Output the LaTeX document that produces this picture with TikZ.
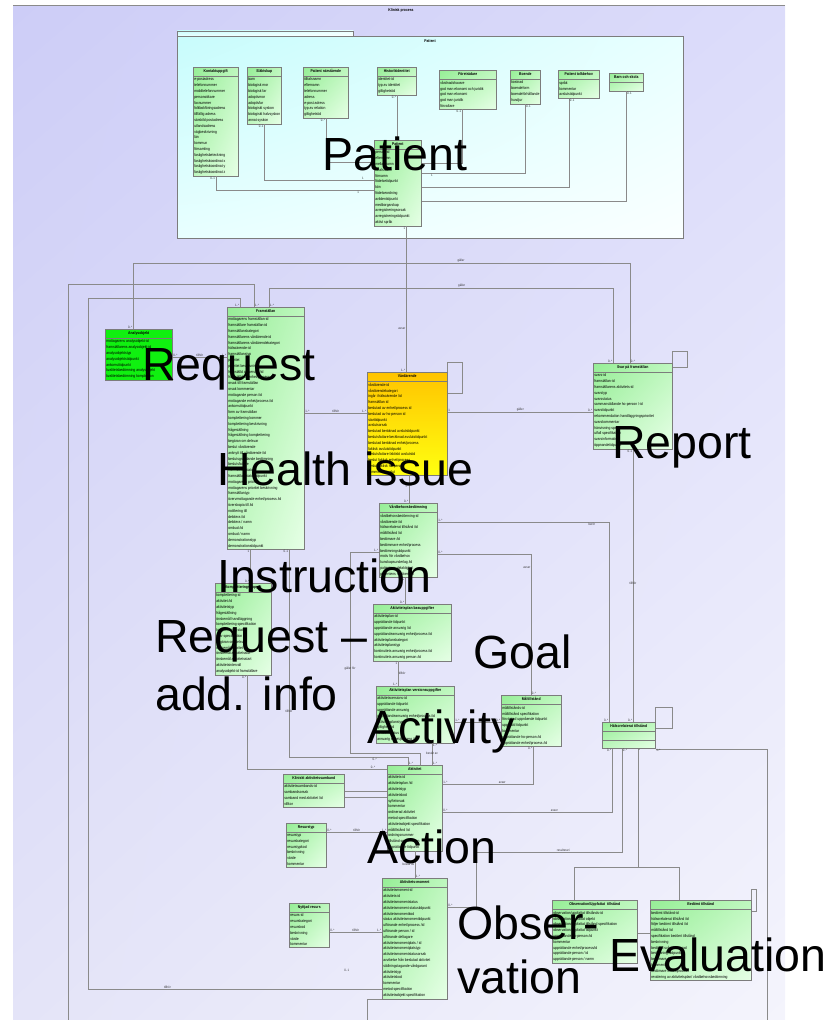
\documentclass[tikz,border=0pt]{standalone}
\usepackage{fontspec}
\setmainfont{Liberation Sans}
\newfontfamily\umlfam[FakeStretch=0.85]{Liberation Sans}
\newcommand{\attrfont}{\umlfam\fontsize{4}{5.8}\selectfont}
\newcommand{\multfont}{\umlfam\fontsize{3.3}{3.8}\selectfont}
\newcommand{\bigfont}{\fontsize{46.5}{56}\selectfont}
\usetikzlibrary{shapes.multipart,shadings,calc}
\definecolor{linegray}{HTML}{8A8A8A}
\definecolor{boxgray}{HTML}{7C7C7C}
\definecolor{bgA}{HTML}{CDCDF7}
\definecolor{bgB}{HTML}{DCDCFA}
\definecolor{bgC}{HTML}{E4E4F8}
\definecolor{bgD}{HTML}{F4F4FC}
\definecolor{pkgA}{HTML}{C8FCFC}
\definecolor{pkgB}{HTML}{E8FFFF}
\definecolor{pkgD}{HTML}{FAFFFF}
\definecolor{grnA}{HTML}{96EE96}
\definecolor{grnB}{HTML}{BEF7BE}
\definecolor{grnC}{HTML}{E6FFE6}
\definecolor{analysgreen}{HTML}{10F010}
\definecolor{vardtop}{HTML}{FFC400}
\definecolor{vardbot}{HTML}{FFFF10}
\tikzset{
	umlbase/.style={rectangle split, rectangle split parts=2, rectangle split part align={center,left},
		rectangle split empty part height=1pt, draw=boxgray, line width=0.5pt, anchor=north west,
		align=left, font=\attrfont, inner xsep=1pt, inner ysep=1.4pt},
	umlclass/.style={umlbase, shade, upper left=grnA, upper right=grnB, lower left=grnB, lower right=grnC},
	umlkey/.style={umlbase, fill=analysgreen},
	umlissue/.style={umlbase, top color=vardtop, bottom color=vardbot},
	pkgbox/.style={draw=boxgray, line width=0.5pt, anchor=north west, inner sep=0pt, shade,
		upper left=pkgA, upper right=pkgB, lower left=pkgB, lower right=pkgD},
	assoc/.style={draw=linegray, line width=0.5pt},
	mult/.style={font=\multfont, text=black!80, inner sep=0.5pt},
	bigtxt/.style={font=\bigfont, anchor=base west, inner sep=0pt},
}
\begin{document}
\begin{tikzpicture}[x=1pt, y=-1pt]
\useasboundingbox (0,0) rectangle (825,1020);
\shade[upper left=bgA, upper right=bgB, lower left=bgC, lower right=bgD] (13,5) rectangle (785,1020);
\draw[linegray, line width=0.5pt] (13,5) -- (785,5);
\node[font=\attrfont\bfseries] (title) at (401,10) {Klinisk process};

% Patient package
\node[pkgbox, minimum width=506, minimum height=202] (pkg) at (177,36) {};
\node[pkgbox, anchor=south west, minimum width=176, minimum height=5] (pkgtab) at (pkg.north west) {};
\node[font=\attrfont\bfseries] (pkgname) at (430,41) {Patient};

\node[umlclass, minimum width=45] (kontakt) at (193,67) {\strut\textbf{Kontaktuppgift}\nodepart{second}e-postadress\\telefonnummer\\mobiltelefonnummer\\personsökare\\faxnummer\\folkbokföringsadress\\tillfällig adress\\särskild postadress\\utlandsadress\\vägbeskrivning\\län\\kommun\\församling\\fastighetsbeteckning\\fastighetskoordinat x\\fastighetskoordinat y\\fastighetskoordinat z};
\node[umlclass, minimum width=34] (slakt) at (247,67) {\strut\textbf{Släktskap}\nodepart{second}barn\\biologisk mor\\biologisk far\\adoptivmor\\adoptivfar\\biologiskt syskon\\biologiskt halvsyskon\\annat syskon};
\node[umlclass, minimum width=45] (narst) at (303,67) {\strut\textbf{Patient närstående}\nodepart{second}tilltalsnamn\\efternamn\\telefonnummer\\adress\\e-post adress\\typ av relation\\giltighetstid};
\node[umlclass, minimum width=39] (histid) at (377,67) {\strut\textbf{Historikidentitet}\nodepart{second}identitet-id\\typ av identitet\\giltighetstid};
\node[umlclass, minimum width=57] (foretr) at (439,70) {\strut\textbf{Företrädare}\nodepart{second}vårdnadshavare\\god man ekonomi och juridik\\god man ekonomi\\god man juridik\\förvaltare};
\node[umlclass, minimum width=29] (boende) at (510,70) {\strut\textbf{Boende}\nodepart{second}kostnad\\boendeform\\boendeförhållande\\husdjur};
\node[umlclass, minimum width=41] (tolk) at (558,70) {\strut\textbf{Patient tolkbehov}\nodepart{second}språk\\kommentar\\avslutstidpunkt};
\node[umlclass, minimum width=34] (barnskola) at (609,73) {\strut\textbf{Barn och skola}\nodepart{second}};
\node[umlclass, minimum width=47] (patient) at (374,140) {\strut\textbf{Patient}\nodepart{second}person-id\\efternamn\\mellannamn\\tilltalsnamn\\förnamn\\födelsetidpunkt\\kön\\födelseordning\\avlidentidpunkt\\medborgarskap\\avregistreringsorsak\\avregistreringstidpunkt\\aktivt språk};

% clinical process
\node[umlkey, minimum width=67] (analys) at (105,329) {\strut\textbf{Analysobjekt}\nodepart{second}mottagarens analysobjekt-id\\framställarens analysobjekt-id\\analysobjektstyp\\analysobjektstidpunkt\\ankomsttidpunkt\\kvalitetsbedömning analysobjekt\\kvalitetsbedömning komplettion};
\node[umlclass, minimum width=77] (fram) at (227,307) {\strut\textbf{Framställan}\nodepart{second}mottagarens framställan-id\\framställare framställan-id\\framställanskategori\\framställarens vårdärende id\\framställarens vårdärendekategori\\hälsoärende-id\\framställanstyp\\prioritet\\prioritet beskrivning\\framställd av person /id\\framställd av enhet/process /id\\orsak till framställan\\orsak kommentar\\mottagande person /id\\mottagande enhet/process /id\\ankomsttidpunkt\\form av framställan\\komplettering kommer\\komplettering beskrivning\\frågeställning\\frågeställning komplettering\\begäran om delsvar\\beslut vårdärende\\anknytt till vårdärende /id\\beslutsgrundande bedömning\\beslutsfattare\\framställan status\\framställan statustidpunkt\\mottagarens prioritet\\mottagarens prioritet beskrivning\\framställantyp\\övervmottagande enhet/process /id\\överskopia till /id\\notifiering till\\debitera /id\\debitera / namn\\ombud /id\\ombud / namn\\demonstrationstyp\\demonstrationstidpunkt};
\node[umlissue, minimum width=80] (vard) at (367,372) {\strut\textbf{Vårdärende}\nodepart{second}vårdärende-id\\vårdärendekategori\\ingår i hälsoärende /id\\framställan id\\beslutad av enhet/process id\\beslutad av ho-person id\\starttidpunkt\\avslutsorsak\\beslutad beräknad avslutstidpunkt\\beslutsfattare beräknad avslutstidpunkt\\beslutad beräknad enhet/process\\faktisk avslutstidpunkt\\beslutsfattare faktiskt avslutstid\\beslut faktisk enhet/process\\beslut faktisk ho-person\\kommentar avslut};
\node[umlclass, minimum width=79] (svar) at (593,363) {\strut\textbf{Svar på framställan}\nodepart{second}svars-id\\framställan-id\\framställarens aktivitets-id\\svarstyp\\svarsstatus\\sammanställande ho-person /-id\\svarstidpunkt\\rekommendation handläggningsprioritet\\svarskommentar\\hänvisning specifikation\\utfall specifikation\\svarsinformation\\öppnandetidpunkt};
\node[umlclass, minimum width=58] (vbb) at (379,503) {\strut\textbf{Vårdbehovsbedömning}\nodepart{second}vårdbehovsbedömning-id\\vårdärende /id\\hälsorelaterat tillstånd /id\\måltillstånd /id\\bedömare /id\\bedömmare enhet/process\\bedömningstidpunkt\\motiv för vårdbehov\\kunskapsunderlag /id\\patientens delaktighet\\patientens medverkan};
\node[umlclass, minimum width=78] (planbas) at (373,604) {\strut\textbf{Aktivitetsplan basuppgifter}\nodepart{second}aktivitetsplan-id\\upprättande tidpunkt\\upprättande ansvarig /id\\upprättandeansvarig enhet/process /id\\aktivitetsplanskategori\\aktivitetsplanstyp\\kontinuitets ansvarig enhet/process /id\\kontinuitets ansvarig person /id};
\node[umlclass, minimum width=78] (planver) at (376,686) {\strut\textbf{Aktivitetsplan versionsuppgifter}\nodepart{second}aktivitetsversions-id\\upprättande tidpunkt\\upprättande ansvarig\\upprättandeansvarig enhet/process /id\\aktivitetsplanstyp\\giltighetstid\\versionsstatus\\ansvarig enhet/process /id};
\node[umlclass, minimum width=56] (kompl) at (215,583) {\strut\textbf{Kompletteringsuppgift}\nodepart{second}komplettering-id\\aktivitet /id\\aktivitetstyp\\frågeställning\\önskemål handläggning\\komplettering specifikation\\komplettering status\\svar specifikation\\begäran om delsvar\\önskemål prioritet\\önskemål aktivitetsslut\\önskemål aktivitetsstart\\aktivitetsintervall\\analysobjekt-id framställare};
\node[umlclass, minimum width=60] (mal) at (501,695) {\strut\textbf{Måltillstånd}\nodepart{second}måltillstånds-id\\måltillstånd specifikation\\förväntad uppnående tidpunkt\\uppnådd tidpunkt\\kommentar\\upprättande ho-person /id\\upprättande enhet/process /id};
\node[umlclass, rectangle split parts=3, minimum width=53] (halsa) at (602,722) {\strut\textbf{Hälsorelaterat tillstånd}\nodepart{second}\nodepart{third}};
\node[umlclass, minimum width=55] (akt) at (387,765) {\strut\textbf{Aktivitet}\nodepart{second}aktivitets-id\\aktivitetsplan /id\\aktivitetstyp\\aktivitetskod\\syfte/orsak\\kommentar\\ordinerad aktivitet\\metod specifikation\\aktivitetsobjekt specifikation\\måltillstånd /id\\ordningsnummer\\tillstånd specifikation\\upprättande tidpunkt};
\node[umlclass, minimum width=61] (ksamb) at (283,774) {\strut\textbf{Kliniskt aktivitetssamband}\nodepart{second}aktivitetssambands-id\\sambandsorsak\\samband med aktivitet /id\\villkor};
\node[umlclass, minimum width=40] (restyp) at (286,823) {\strut\textbf{Resurstyp}\nodepart{second}resurstyp\\resurskategori\\resurstypkod\\beskrivning\\värde\\kommentar};
\node[umlclass, minimum width=40] (nyttjad) at (289,903) {\strut\textbf{Nyttjad resurs}\nodepart{second}resurs-id\\resurskategori\\resurskod\\beskrivning\\värde\\kommentar};
\node[umlclass, minimum width=65] (amom) at (382,878) {\strut\textbf{Aktivitets-moment}\nodepart{second}aktivitetsmoment-id\\aktivitets-id\\aktivitetsmomentstatus\\aktivitetsmoment statustidpunkt\\aktivitetsmomentkod\\status aktivitetsmomenttidpunkt\\utförande enhet/process /id\\utförande person / id\\utförande deltagare\\aktivitetsmomentplats / id\\aktivitetsmomentplatstyp\\aktivitetsmomentstatusorsak\\avvikelse från beslutad aktivitet\\ställningstagande vårdgarant\\aktivitetstyp\\aktivitetskod\\kommentar\\metod specifikation\\aktivitetsobjekt specifikation};
\node[umlclass, minimum width=85] (obs) at (552,900) {\strut\textbf{Observation/Uppfattat\enspace tillstånd}\nodepart{second}observation/uppfattat tillstånds-id\\observation/uppfattat objekt\\observation/uppfattat tillstånd specifikation\\observation/uppfattat tidpunkt\\upprättande ho-person /id\\kommentar\\upprättande enhet/process/id\\upprättande person / id\\upprättande person / namn};
\node[umlclass, minimum width=101] (bedomt) at (650,900) {\strut\textbf{Bedömt tillstånd}\nodepart{second}bedömt tillstånd-id\\hälsorelaterat tillstånd /id\\följer bedömt tillstånd /id\\måltillstånd /id\\specifikation bedömt tillstånd\\beskrivning\\bedömd svårighetsgrad\\bedömningstidpunkt\\bedömare /id\\kommentar\\bedömare enhet/process\\revidering av aktivitetsplan/ vårdbehovsbedömning};

\coordinate (leftend) at (68,1020);
\coordinate (rightend) at (767,1020);
\coordinate (bottomend) at (367,1020);
\coordinate (gen) at (638,867);

% patient package connectors
\draw[assoc] (kontakt.south) node[mult, anchor=north east] {0..1} |- node[mult, pos=0.95, below] {1} (patient.west |- 0,190);
\draw[assoc] (slakt.south) node[mult, anchor=north east] {0..1} |- node[mult, pos=0.95, above] {1} (patient.west |- 0,180);
\draw[assoc] (narst.south) node[mult, anchor=north east] {0..*} |- (patient.west |- 0,162);
\draw[assoc] (histid.south) node[mult, anchor=north east] {0..*} -- (patient.north -| histid.south);
\draw[assoc] (foretr.south -| 462,0) node[mult, anchor=north east] {0..1} |- (patient.east |- 0,163);
\draw[assoc] (boende.south) node[mult, anchor=north west] {0..1} |- node[mult, pos=0.95, below] {1} (patient.east |- 0,173);
\draw[assoc] (tolk.south -| 569,0) node[mult, anchor=north west] {0..1} |- (patient.east |- 0,187);
\draw[assoc] (barnskola.south) node[mult, anchor=north west] {0..1} |- (patient.east |- 0,201);

% process connectors
\draw[assoc] (patient.south -| 406,0) node[mult, anchor=north east] {1} -- node[mult, pos=0.7, left] {avser} node[mult, pos=1, anchor=south east] {1..*} (vard.north -| 406,0);
\draw[assoc] (analys.north -| 133,0) node[mult, anchor=south east] {0..*} -- ++(0,-66) -| node[mult, pos=0.33, above] {gäller} node[mult, pos=1, anchor=south west] {0..*} (svar.north -| 630,0);
\draw[assoc] (fram.north -| 269,0) node[mult, anchor=south west] {1..*} -- ++(0,-19) -| node[mult, pos=0.28, above] {gäller} node[mult, pos=1, anchor=south east] {0..*} (svar.north -| 613,0);
\draw[assoc] (fram.north -| 254,0) node[mult, anchor=south west] {1..*} -- ++(0,-23) -| (leftend);
\draw[assoc] (fram.north -| 240,0) node[mult, anchor=south east] {1..*} -- ++(0,-9) -| (88,989) -- node[mult, pos=0.27, above] {tillhör} node[mult, pos=0.88, above=17pt] {0..1} (amom.west |- 0,989);
\draw[assoc] (analys.east |- 0,357) node[mult, anchor=south west] {0..*} -- node[mult, above] {tillhör} node[mult, pos=1, anchor=south east] {1..*} (fram.west |- 0,357);
\draw[assoc] (fram.east |- 0,413) node[mult, anchor=south west] {1..*} -- node[mult, above] {tillhör} node[mult, pos=1, anchor=south east] {1..*} (vard.west |- 0,413);
\draw[assoc] (vard.north east) -- ++(0,-10) -- ++(15,0) -- ++(0,31) -- ++(-15,0);
\draw[assoc] (vard.east |- 0,412) node[mult, anchor=south west] {1} -- node[mult, above] {gäller} node[mult, pos=1, anchor=south east] {0..*} (svar.west |- 0,412);
\draw[assoc] (svar.north east) -- ++(0,-12) -- ++(15,0) -- ++(0,16) -- ++(-15,0);
\draw[assoc] (svar.south -| 633,0) node[mult, anchor=north east] {0..1} -- node[mult, pos=0.49] {tillhör} node[mult, pos=1, anchor=south east] {0..*} (halsa.north -| 633,0);
\draw[assoc] (vard.south -| 409,0) -- node[mult, pos=0.37] {gäller} node[mult, pos=1, anchor=south east] {0..*} (vbb.north -| 409,0);
\draw[assoc] (vbb.east |- 0,522) node[mult, anchor=south west] {1..*} -| node[mult, pos=0.45, below] {berör} node[mult, pos=1, anchor=south east] {0..*} (halsa.north -| 609,0);
\draw[assoc] (vbb.east |- 0,554) node[mult, anchor=south west] {0..*} -| node[mult, pos=0.55, left] {avser} node[mult, pos=1, anchor=south west] {0..*} (mal.north -| 531,0);
\draw[assoc] (vbb.south -| 405,0) node[mult, anchor=north east] {0..*} -- node[mult, pos=1, anchor=south east] {0..*} (planbas.north -| 405,0);
\draw[assoc] (vbb.west |- 0,552) node[mult, anchor=south east] {1..*} -| node[mult, pos=0.79] {gäller för} (350,753) -| (akt.north -| 420,0);
\draw[assoc] (fram.south -| 289,0) node[mult, anchor=north east] {0..1} -- node[mult, pos=0.78] {tillhör} (289,757) -| node[mult, pos=0.36, below] {0..*} node[mult, pos=1, anchor=south west] {1..*} (akt.north -| 408,0);
\draw[assoc] (kompl.south -| 247,0) node[mult, anchor=north east] {0..*} |- node[mult, pos=0.95, above] {0..*} (akt.west |- 0,769);
\draw[assoc] (fram.south -| 250,0) node[mult, anchor=north east] {1} -- node[mult, pos=1, anchor=south east] {0..*} (kompl.north -| 250,0);
\draw[assoc] (planbas.south -| 398,0) node[mult, anchor=north east] {1} -- node[mult, right] {tillhör} node[mult, pos=1, anchor=south east] {1..*} (planver.north -| 398,0);
\draw[assoc] (planver.east |- 0,722) node[mult, anchor=south west] {1..*} -- node[mult, pos=1, anchor=south east] {0..*} (mal.west |- 0,722);
\draw[assoc] (planver.south -| 432,0) node[mult, anchor=north west] {1..*} -- node[mult, pos=0.45] {består av} node[mult, pos=1, anchor=south west] {1..*} (akt.north -| 432,0);
\draw[assoc] (akt.east |- 0,784) node[mult, anchor=south west] {1..*} -| node[mult, pos=0.33, above] {avser} node[mult, pos=1, anchor=north east] {0..*} (mal.south -| 533,0);
\draw[assoc] (akt.east |- 0,812) node[mult, anchor=south west] {0..*} -| node[mult, pos=0.33, above] {avser} node[mult, pos=1, anchor=north east] {0..*} (halsa.south -| 612,0);
\draw[assoc] (akt.south -| 415,0) -- node[mult, left] {består av} node[mult, pos=1, anchor=south west] {1..*} (amom.north -| 415,0);
\draw[assoc] (amom.east |- 0,907) node[mult, anchor=south west] {0..*} -| (476,852) -| node[mult, pos=0.3, above] {resulterar i} node[mult, pos=1, anchor=north west] {0..*} (halsa.south -| 622,0);
\draw[assoc] (halsa.south -| gen) node[mult, anchor=north west] {*} -- (gen);
\draw[assoc] (obs.north -| 574,0) |- (gen) -| (bedomt.north -| 679,0);
\draw[assoc] (halsa.north east) -- ++(0,-15) -- ++(17,0) -- ++(0,21) -- ++(-17,0);
\draw[assoc] (halsa.south east) node[mult, anchor=north west] {1..*} -| (rightend);
\draw[assoc] (ksamb.east |- 0,791) -- (akt.west |- 0,791);
\draw[assoc] (ksamb.east |- 0,797) -- (akt.west |- 0,797);
\draw[assoc] (restyp.east |- 0,832) node[mult, anchor=south west] {0..*} -- node[mult, above] {tillhör} node[mult, pos=1, anchor=south east] {1..*} (akt.west |- 0,832);
\draw[assoc] (nyttjad.east |- 0,932) node[mult, anchor=south west] {0..*} -- node[mult, above] {tillhör} node[mult, pos=1, anchor=south east] {1..*} (amom.west |- 0,932);
\draw[assoc] (obs.east |- 0,933) -- (bedomt.west |- 0,933);
\draw[assoc] (bedomt.north east) -- ++(0,-11) -- ++(5,0) -- ++(0,22) -- ++(-5,0);
\draw[assoc] (amom.west |- 0,999) -| (bottomend);

% overlay labels
\node[bigtxt] (tPatient) at (322,170) {Patient};
\node[bigtxt] (tRequest) at (142,380) {Request};
\node[bigtxt] (tHealth) at (217,485) {Health issue};
\node[bigtxt] (tReport) at (612,458) {Report};
\node[bigtxt] (tInstr) at (217,592) {Instruction};
\node[bigtxt] (tAddA) at (155,652) {Request –};
\node[bigtxt] (tAddB) at (155,710) {add. info};
\node[bigtxt] (tGoal) at (473,668) {Goal};
\node[bigtxt] (tActivity) at (367,743) {Activity};
\node[bigtxt] (tAction) at (367,863) {Action};
\node[bigtxt] (tObsA) at (457,939) {Obser-};
\node[bigtxt] (tObsB) at (457,993) {vation};
\node[bigtxt] (tEval) at (609,971) {Evaluation};
\end{tikzpicture}
\end{document}
